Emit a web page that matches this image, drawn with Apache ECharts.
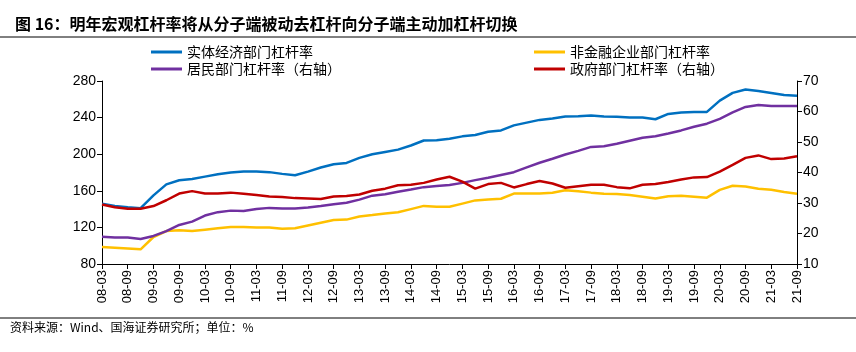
<!DOCTYPE html>
<html>
<head>
<meta charset="utf-8">
<script src="https://cdn.jsdelivr.net/npm/echarts@6/dist/echarts.min.js"></script>
<style>
  html, body { margin: 0; padding: 0; background: #fff; }
  #myChart { width: 856px; height: 352px; }
</style>
</head>
<body>
<div id="myChart"></div>
<script>
// quarterly categories 08-03 .. 21-09
var quarters = [];
for (var y = 8; y <= 21; y++) {
  ['03', '06', '09', '12'].forEach(function (m) {
    if (y === 21 && m === '12') return;
    quarters.push((y < 10 ? '0' + y : '' + y) + '-' + m);
  });
}

// 实体经济部门杠杆率 (left)
var realEconomy = [146, 143.5, 142, 141, 155, 167, 171.5, 173, 175.5, 178, 180, 181, 181, 180.4, 178.5, 177,
  181, 185.5, 189, 190.5, 196, 200, 202.5, 205, 209.5, 215, 215.3, 217, 219.5, 221, 224.5, 226,
  231.5, 234.5, 237.5, 239, 241.3, 241.5, 242.2, 241.2, 240.8, 240, 240, 238.2, 244, 245.5, 246, 246.2,
  258.5, 267, 270.7, 269, 267, 264.7, 264];
// 非金融企业部门杠杆率 (left)
var nonFinCorp = [98.5, 97.8, 97, 96, 109.5, 116, 117, 116, 117.5, 119, 120.5, 120.5, 120, 120, 118.5, 119,
  122, 125, 128, 128.5, 132, 133.5, 135.3, 136.5, 140, 143.5, 142.5, 142.5, 146, 149.5, 150.5, 151.3,
  157, 157, 157, 157.8, 160.5, 159.6, 158, 156.8, 156.4, 155.3, 153.6, 151.5, 154, 154.5, 153.5, 152.5,
  161, 165.5, 164.7, 162.3, 161.1, 158.8, 156.7];
// 居民部门杠杆率 (right)
var household = [18.9, 18.7, 18.7, 18.2, 19.2, 20.8, 22.8, 23.9, 25.9, 27.0, 27.5, 27.4, 28.0, 28.4, 28.2, 28.2,
  28.5, 29.0, 29.6, 30.1, 31.1, 32.4, 32.9, 33.7, 34.4, 35.2, 35.6, 35.9, 36.6, 37.5, 38.3, 39.2,
  40.1, 41.7, 43.2, 44.5, 45.9, 47.1, 48.4, 48.6, 49.4, 50.4, 51.4, 51.9, 52.8, 53.8, 55.0, 56.0,
  57.6, 59.7, 61.5, 62.1, 61.8, 61.8, 61.8];
// 政府部门杠杆率 (right)
var government = [29.5, 28.6, 28.1, 28.1, 29.0, 30.9, 33.1, 33.9, 33.1, 33.1, 33.4, 33.0, 32.6, 32.1, 32.0, 31.6,
  31.5, 31.3, 32.1, 32.3, 32.8, 34.0, 34.7, 35.8, 36.0, 36.6, 37.7, 38.6, 37.0, 34.7, 36.2, 36.6,
  35.1, 36.2, 37.2, 36.4, 35.0, 35.5, 36.0, 36.0, 35.2, 34.8, 36.0, 36.2, 36.9, 37.7, 38.4, 38.5,
  40.3, 42.5, 44.8, 45.6, 44.4, 44.6, 45.3];

var leftTicks = [80, 280, 40];
var rightTicks = [10, 70, 10];

var cjk = '"Noto Sans CJK SC", sans-serif';
var num = '"Liberation Sans", Arial, sans-serif';

var legendText = { fontSize: 14, color: '#000', fontFamily: cjk };

var myChart = echarts.init(document.getElementById('myChart'));
myChart.setOption({
  animation: false,
  backgroundColor: '#fff',
  textStyle: { fontFamily: cjk },
  title: {
    text: '图 16：明年宏观杠杆率将从分子端被动去杠杆向分子端主动加杠杆切换',
    left: 10, top: 11,
    textStyle: { fontSize: 16, fontWeight: 'bold', color: '#000', fontFamily: cjk }
  },
  graphic: [
    { type: 'line', shape: { x1: 0, y1: 37, x2: 856, y2: 37 }, style: { stroke: '#000', lineWidth: 1 } },
    { type: 'line', shape: { x1: 0, y1: 318, x2: 856, y2: 318 }, style: { stroke: '#000', lineWidth: 1 } },
    { type: 'text', left: 10, top: 321,
      style: { text: '资料来源：Wind、国海证券研究所；单位：%', fontSize: 12, fill: '#000', fontFamily: cjk } }
  ],
  legend: [
    {
      data: ['实体经济部门杠杆率', '居民部门杠杆率（右轴）'],
      orient: 'vertical', left: 146, top: 40, itemGap: 3,
      icon: 'rect', itemWidth: 31, itemHeight: 3,
      textStyle: legendText
    },
    {
      data: ['非金融企业部门杠杆率', '政府部门杠杆率（右轴）'],
      orient: 'vertical', left: 529, top: 40, itemGap: 3,
      icon: 'rect', itemWidth: 31, itemHeight: 3,
      textStyle: legendText
    }
  ],
  grid: { left: 102, right: 59, top: 81, bottom: 88 },
  xAxis: {
    type: 'category',
    data: quarters,
    boundaryGap: false,
    axisLine: { lineStyle: { color: '#000', width: 1 } },
    axisTick: { interval: 1, length: 5, lineStyle: { color: '#000' } },
    axisLabel: { interval: 1, rotate: 90, fontSize: 13, color: '#000', fontFamily: num, margin: 6 },
    splitLine: { show: false }
  },
  yAxis: [
    {
      type: 'value', min: leftTicks[0], max: leftTicks[1], interval: leftTicks[2],
      axisLine: { show: true, lineStyle: { color: '#000', width: 1 } },
      axisTick: { show: true, length: 5, lineStyle: { color: '#000' } },
      axisLabel: { fontSize: 14, color: '#000', fontFamily: num, margin: 6 },
      splitLine: { show: false }
    },
    {
      type: 'value', min: rightTicks[0], max: rightTicks[1], interval: rightTicks[2],
      axisLine: { show: true, lineStyle: { color: '#000', width: 1 } },
      axisTick: { show: true, length: 5, lineStyle: { color: '#000' } },
      axisLabel: { fontSize: 14, color: '#000', fontFamily: num, margin: 6 },
      splitLine: { show: false }
    }
  ],
  series: [
    { name: '实体经济部门杠杆率', type: 'line', yAxisIndex: 0, symbol: 'none', data: realEconomy,
      lineStyle: { color: '#0070C0', width: 2.5 }, itemStyle: { color: '#0070C0' } },
    { name: '非金融企业部门杠杆率', type: 'line', yAxisIndex: 0, symbol: 'none', data: nonFinCorp,
      lineStyle: { color: '#FFC000', width: 2.5 }, itemStyle: { color: '#FFC000' } },
    { name: '居民部门杠杆率（右轴）', type: 'line', yAxisIndex: 1, symbol: 'none', data: household,
      lineStyle: { color: '#7030A0', width: 2.5 }, itemStyle: { color: '#7030A0' } },
    { name: '政府部门杠杆率（右轴）', type: 'line', yAxisIndex: 1, symbol: 'none', data: government,
      lineStyle: { color: '#C00000', width: 2.5 }, itemStyle: { color: '#C00000' } }
  ]
});
</script>
</body>
</html>
